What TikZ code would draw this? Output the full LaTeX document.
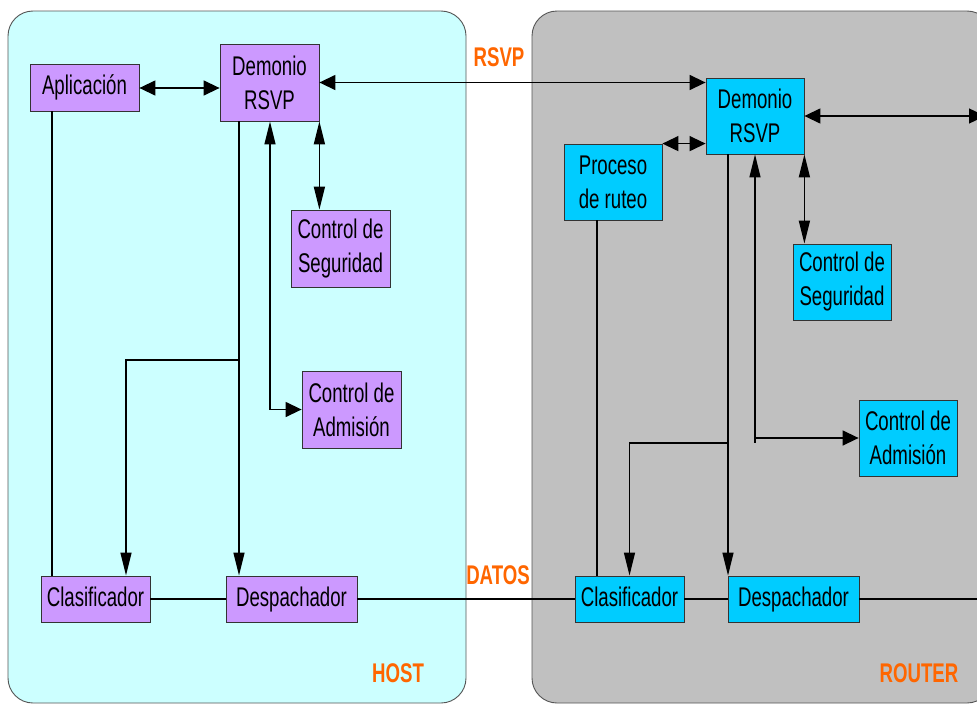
\documentclass[tikz,border=0pt]{standalone}
\usepackage{fontspec}
\usetikzlibrary{arrows.meta}
\newfontfamily\nar[FakeStretch=0.69]{Liberation Sans}
\definecolor{hostbg}{HTML}{CCFFFF}
\definecolor{routbg}{HTML}{C0C0C0}
\definecolor{purp}{HTML}{CC99FF}
\definecolor{cyanbox}{HTML}{00CCFF}
\definecolor{orng}{HTML}{FF6600}
\definecolor{edge}{HTML}{555555}
\tikzset{
  hh/.tip={Triangle[length=16pt,width=15pt]},
  vv/.tip={Triangle[length=23pt,width=11pt]},
  box/.style={draw=black!80, line width=0.8pt, inner sep=0pt, align=center,
    font=\nar\fontsize{27}{34}\selectfont},
  oneline/.style={text height=19pt, text depth=5pt},
  hbox/.style={box, fill=purp},
  rbox/.style={box, fill=cyanbox},
  panel/.style={draw=edge, line width=0.9pt, rounded corners=25pt},
  conn/.style={line width=1.4pt, black},
  tag/.style={text=orng, font=\nar\bfseries\fontsize{27}{32}\selectfont, inner sep=0pt}
}
\begin{document}
\begin{tikzpicture}[x=1pt,y=-1pt]
\useasboundingbox (0,0) rectangle (977,704);
\fill[white] (0,0) rectangle (977,704);
% panels
\draw[panel, fill=hostbg] (8,11) rectangle (466,703);
\draw[panel, fill=routbg] (532,11) rectangle (992,703);
% host nodes
\node[hbox, oneline, minimum width=109pt, minimum height=47pt] (app) at (84.5,87.5) {Aplicación};
\node[hbox, minimum width=99pt, minimum height=77pt] (hdem) at (269.5,82.5) {Demonio\\RSVP};
\node[hbox, minimum width=99pt, minimum height=77pt] (hseg) at (340.5,248.5) {Control de\\Seguridad};
\node[hbox, minimum width=99pt, minimum height=77pt] (hadm) at (351.5,409.5) {Control de\\Admisión};
\node[hbox, oneline, minimum width=109pt, minimum height=46pt] (hcla) at (95.5,599) {Clasificador};
\node[hbox, oneline, minimum width=131pt, minimum height=46pt] (hdes) at (291.5,599) {Despachador};
% router nodes
\node[rbox, minimum width=98pt, minimum height=76pt] (rdem) at (755,116) {Demonio\\RSVP};
\node[rbox, minimum width=98pt, minimum height=76pt] (rpro) at (613,182) {Proceso\\de ruteo};
\node[rbox, minimum width=98pt, minimum height=76pt] (rseg) at (842,282) {Control de\\Seguridad};
\node[rbox, minimum width=98pt, minimum height=76pt] (radm) at (908,438) {Control de\\Admisión};
\node[rbox, oneline, minimum width=109pt, minimum height=46pt] (rcla) at (629.5,599) {Clasificador};
\node[rbox, oneline, minimum width=131pt, minimum height=46pt] (rdes) at (793.5,599) {Despachador};
% labels
\node[tag] (lrsvp) at (499,57) {RSVP};
\node[tag] (ldatos) at (498,575) {DATOS};
\node[tag] (lhost) at (398,673) {HOST};
\node[tag] (lrouter) at (919,673) {ROUTER};
% helper coordinates
\coordinate (hx1) at (52,0);
\coordinate (hx2) at (239,0);
\coordinate (hx3) at (270,0);
\coordinate (hx4) at (126,0);
\coordinate (hbr) at (239,360);
\coordinate (rx1) at (597,0);
\coordinate (rx2) at (728,0);
\coordinate (rbr) at (728,443);
\coordinate (redge) at (985,116);
\coordinate (dedge) at (990,599);
% host connectors
\draw[conn, hh-hh] (app.east |- 0,88) -- (hdem.west |- 0,88);
\draw[conn] (app.south -| hx1) -- (hcla.north -| hx1);
\draw[conn, -vv] (hdem.south -| hx2) -- (hdes.north -| hx2);
\draw[conn, -vv] (hbr) -| (hcla.north -| hx4);
\draw[conn, vv-hh] (hdem.south -| hx3) |- (hadm.west);
\draw[conn, vv-vv] (hdem.south east) -- (hdem.south east |- hseg.north);
\draw[conn, hh-hh] (hdem.east) -- (hdem.east -| rdem.west);
% router connectors
\draw[conn, hh-hh] (rpro.north east) -- (rpro.north east -| rdem.west);
\draw[conn, hh-hh] (rdem.east) -- (redge);
\draw[conn, -vv] (rdem.south -| rx2) -- (rdes.north -| rx2);
\draw[conn, -vv] (rbr) -| (rcla.north);
\draw[conn, vv-hh] (rdem.south) |- (radm.west);
\draw[conn] (rdem.south |- radm.west) -- ++(0,5);
\draw[conn, vv-vv] (rdem.south east) -- (rdem.south east |- rseg.north);
\draw[conn] (rpro.south -| rx1) -- (rcla.north -| rx1);
% data path
\draw[conn] (hcla.east) -- (hdes.west);
\draw[conn] (hdes.east) -- (rcla.west);
\draw[conn] (rcla.east) -- (rdes.west);
\draw[conn] (rdes.east) -- (dedge);
\end{tikzpicture}
\end{document}
